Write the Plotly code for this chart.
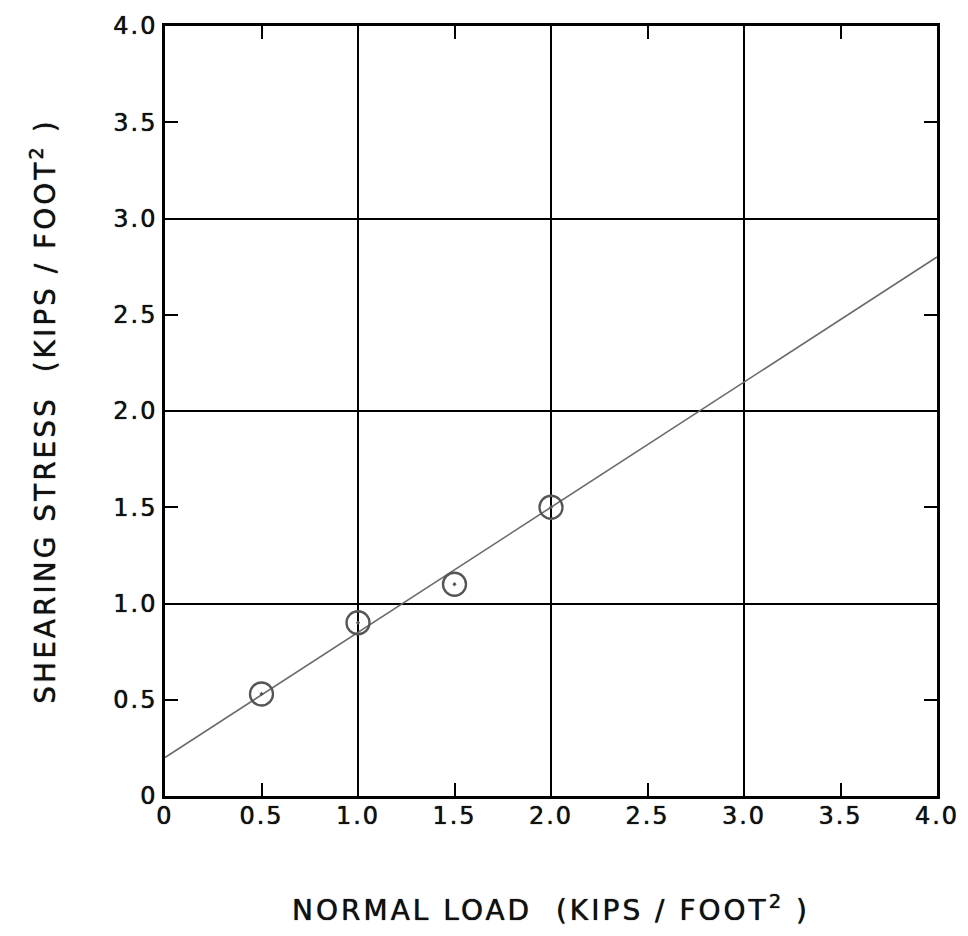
import plotly.graph_objects as go

# Data
normal_load = [0.5, 1.0, 1.5, 2.0]
shear_stress = [0.53, 0.90, 1.10, 1.50]
fit_x = [0.0, 4.0]
fit_y = [0.20, 2.80]

x_tickvals = [0, 0.5, 1.0, 1.5, 2.0, 2.5, 3.0, 3.5, 4.0]
x_ticktext = ["0", "0.5", "1.0", "1.5", "2.0", "2.5", "3.0", "3.5", "4.0"]
y_tickvals = [0, 0.5, 1.0, 1.5, 2.0, 2.5, 3.0, 3.5, 4.0]
y_ticktext = ["0", "0.5", "1.0", "1.5", "2.0", "2.5", "3.0", "3.5", "4.0"]
grid_vals = [1.0, 2.0, 3.0]

FONT = "DejaVu Sans, Liberation Sans, sans-serif"
SHADOW = "0px 0px 1px #000"

fig = go.Figure()

# grid carrier (secondary overlaying axes)
fig.add_trace(go.Scatter(x=fit_x, y=fit_y, xaxis="x2", yaxis="y2",
                         mode="lines", line=dict(color="rgba(0,0,0,0)"),
                         hoverinfo="skip", showlegend=False))

fig.add_trace(go.Scatter(x=fit_x, y=fit_y, mode="lines",
                         line=dict(color="#6a6a6a", width=1.6),
                         showlegend=False))
fig.add_trace(go.Scatter(x=normal_load, y=shear_stress, mode="markers",
                         marker=dict(symbol="circle-open-dot", size=23,
                                     color="#555555",
                                     line=dict(color="#555555", width=2.3)),
                         showlegend=False))

common = dict(range=[0, 4], showline=True, linecolor="black", linewidth=2.5,
              mirror="ticks", ticks="inside", ticklen=13, tickwidth=2,
              tickcolor="black", showgrid=False, zeroline=False,
              tickfont=dict(family=FONT, size=24, color="#111", shadow=SHADOW))

fig.update_layout(
    width=968, height=936,
    margin=dict(l=165, r=27, t=22, b=140),
    plot_bgcolor="white", paper_bgcolor="white",
    xaxis=dict(**common, tickvals=x_tickvals, ticktext=x_ticktext,
               ticklabelstandoff=-4,
               title=dict(text="NORMAL LOAD  (KIPS / FOOT<sup>2</sup> )",
                          font=dict(family=FONT, size=28, color="#111",
                                    shadow=SHADOW),
                          standoff=72)),
    yaxis=dict(**common, tickvals=y_tickvals, ticktext=y_ticktext,
               title=dict(text="SHEARING STRESS  (KIPS / FOOT<sup>2</sup> )",
                          font=dict(family=FONT, size=28, color="#111",
                                    shadow=SHADOW),
                          standoff=56)),
    xaxis2=dict(range=[0, 4], overlaying="x", tickvals=grid_vals,
                showgrid=True, gridcolor="black", gridwidth=2,
                showticklabels=False, ticks="", zeroline=False, showline=False),
    yaxis2=dict(range=[0, 4], overlaying="y", tickvals=grid_vals,
                showgrid=True, gridcolor="black", gridwidth=2,
                showticklabels=False, ticks="", zeroline=False, showline=False),
)

post = """
var gd = document.getElementById('{plot_id}');
function spacing() {
  gd.querySelectorAll('.xtick text, .ytick text').forEach(function (t) {
    t.setAttribute('letter-spacing', '2px');
  });
  gd.querySelectorAll('.g-xtitle text, .g-ytitle text').forEach(function (t) {
    t.setAttribute('letter-spacing', '3px');
  });
}
spacing();
gd.on('plotly_afterplot', spacing);
"""

fig.write_html("out.html", post_script=post)
